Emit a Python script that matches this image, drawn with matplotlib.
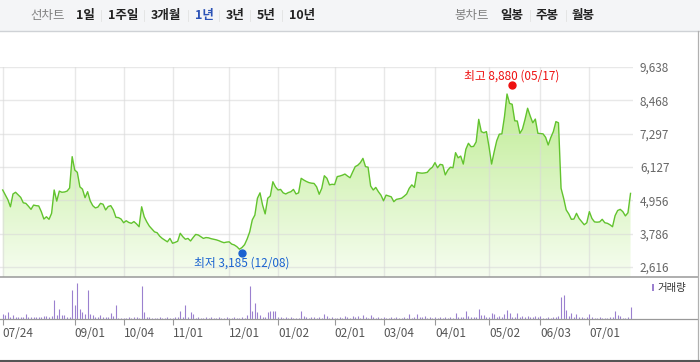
import numpy as np
import pandas as pd
import matplotlib
matplotlib.use('Agg')
import matplotlib.pyplot as plt
import matplotlib.transforms as mtransforms
from matplotlib.lines import Line2D
from matplotlib.patches import Rectangle
from matplotlib.colors import LinearSegmentedColormap

plt.rcParams['font.family'] = ['Noto Sans CJK KR', 'DejaVu Sans']

# KRX trading days, 2023-07-24 .. 2024-07-23
krx_holidays = ['2023-08-15', '2023-09-28', '2023-09-29', '2023-10-02', '2023-10-03',
                '2023-10-09', '2023-12-25', '2023-12-29', '2024-01-01', '2024-02-09',
                '2024-02-12', '2024-03-01', '2024-04-10', '2024-05-01', '2024-05-06',
                '2024-05-15', '2024-06-06']
dates = pd.bdate_range('2023-07-24', '2024-07-23', freq='C', holidays=krx_holidays)

# daily close (won)
close = [
    5320, 5150, 4980, 4730, 5180, 5240, 5150, 5060, 4870, 4850,
    4750, 4640, 4790, 4770, 4760, 4560, 4300, 4380, 4290, 4500,
    5320, 4930, 5280, 5240, 5250, 5280, 5390, 6490, 6020, 5940,
    5430, 5350, 5050, 5260, 4940, 4770, 4690, 4720, 4850, 4820,
    4620, 4740, 4770, 4620, 4360, 4350, 4300, 4170, 4240, 4180,
    4150, 4210, 4130, 4030, 4730, 4380, 4200, 4050, 3950, 3850,
    3820, 3700, 3620, 3560, 3500, 3620, 3450, 3480, 3520, 3800,
    3680, 3590, 3620, 3530, 3650, 3760, 3740, 3680, 3620, 3650,
    3640, 3610, 3590, 3570, 3540, 3500, 3470, 3490, 3500, 3420,
    3390, 3330, 3240, 3300, 3400, 3600, 3850, 4270, 4440, 5030,
    5220, 4790, 4480, 5030, 5110, 5610, 5430, 5320, 5340, 5220,
    5180, 5230, 5260, 5340, 5180, 5220, 5730, 5670, 5620, 5580,
    5560, 5550, 5430, 5170, 5380, 5820, 5730, 5500, 5520, 5510,
    5790, 5810, 5840, 5880, 5810, 5750, 5950, 6140, 6190, 6280,
    6430, 6140, 6120, 5460, 5320, 5410, 5260, 5140, 4940, 5140,
    5110, 5080, 4910, 4990, 5010, 5030, 5100, 5180, 5380, 5500,
    5410, 5940, 5920, 5910, 5920, 5940, 6050, 6120, 6280, 6100,
    6220, 6200, 5850, 6020, 6120, 6100, 6630, 6450, 6510, 6230,
    6750, 6960, 6840, 6850, 7010, 7800, 7370, 7330, 7370, 6840,
    6230, 6660, 7050, 7280, 7290, 7890, 8690, 8360, 8330, 7750,
    7740, 7310, 7460, 7800, 8190, 7920, 7680, 7810, 7310, 7300,
    7290, 7170, 6900, 7160, 7370, 7720, 7680, 5380, 5030, 4620,
    4480, 4290, 4300, 4500, 4320, 4210, 4100, 4170, 4560, 4320,
    4200, 4190, 4200, 4290, 4170, 4150, 4100, 4030, 4420, 4600,
    4640, 4560, 4410, 4520, 5200,
]

# daily volume (thousand shares)
volume = [
    160, 120, 210, 60, 110, 60, 60, 60, 60, 140,
    60, 60, 60, 60, 60, 60, 90, 90, 60, 90,
    570, 120, 300, 120, 120, 60, 60, 880, 420, 1080,
    300, 210, 150, 870, 150, 120, 60, 60, 120, 60,
    60, 60, 180, 90, 420, 40, 40, 40, 40, 60,
    40, 60, 60, 40, 990, 210, 60, 60, 40, 40,
    40, 60, 40, 40, 50, 40, 40, 60, 50, 240,
    60, 420, 60, 210, 150, 40, 60, 40, 40, 60,
    40, 60, 40, 40, 60, 40, 40, 60, 40, 40,
    60, 40, 40, 60, 40, 120, 990, 240, 480, 210,
    120, 60, 60, 210, 240, 240, 240, 60, 60, 40,
    60, 40, 60, 40, 40, 40, 240, 90, 60, 40,
    60, 60, 40, 60, 40, 150, 90, 40, 60, 40,
    40, 60, 40, 90, 60, 40, 100, 60, 100, 40,
    120, 60, 40, 120, 60, 40, 60, 40, 60, 40,
    40, 60, 40, 60, 40, 40, 60, 40, 150, 40,
    60, 150, 60, 60, 90, 40, 60, 40, 60, 40,
    60, 40, 60, 40, 60, 40, 180, 60, 60, 60,
    240, 90, 60, 60, 60, 300, 120, 120, 60, 60,
    180, 150, 60, 90, 60, 150, 280, 180, 60, 60,
    180, 60, 90, 60, 90, 60, 60, 90, 60, 90,
    40, 40, 60, 40, 60, 60, 90, 660, 720, 270,
    90, 180, 60, 150, 60, 60, 40, 60, 150, 60,
    40, 40, 60, 40, 40, 40, 60, 60, 240, 120,
    90, 40, 40, 60, 360,
]

tick_dates = ['2023-07-24', '2023-09-01', '2023-10-04', '2023-11-01', '2023-12-01',
              '2024-01-02', '2024-02-01', '2024-03-04', '2024-04-01', '2024-05-02',
              '2024-06-03', '2024-07-01']
price_ticks = [2616, 3786, 4956, 6127, 7297, 8468, 9638]

high_date, high_value = '2024-05-17', 8880
low_date, low_value = '2023-12-08', 3185

periods = ['1일', '1주일', '3개월', '1년', '3년', '5년', '10년']
candles = ['일봉', '주봉', '월봉']

assert len(dates) == len(close) == len(volume)

W, H = 700, 362
x = np.arange(len(close))
tick_idx = [dates.get_loc(pd.Timestamp(d)) for d in tick_dates]
tick_labels = [pd.Timestamp(d).strftime('%m/%d') for d in tick_dates]


def fx(px):
    return px / W


def fy(py):
    return 1 - py / H


fig = plt.figure(figsize=(7, 3.62), dpi=100)
fig.patch.set_facecolor('white')

# toolbar
fig.add_artist(Rectangle((0, fy(30.5)), 1, 30.5 / H, transform=fig.transFigure,
                         facecolor='#f4f5f7', edgecolor='none', zorder=0))
fig.add_artist(Line2D([0, 1], [fy(30.5), fy(30.5)], transform=fig.transFigure,
                      color='#cfd2d6', lw=1))
fig.text(fx(48), fy(15), '선차트', color='#808080', fontsize=9, ha='center', va='center')
period_x = [85.5, 123, 166, 204, 235, 266, 302]
for px, lbl in zip(period_x, periods):
    c = '#2b52b6' if lbl == '1년' else '#222222'
    fig.text(fx(px), fy(15), lbl, color=c, fontsize=9, fontweight='bold', ha='center', va='center')
for px in [101, 144, 188, 219, 250, 282, 530, 566]:
    fig.add_artist(Line2D([fx(px), fx(px)], [fy(10), fy(21)], transform=fig.transFigure,
                          color='#e2e2e2', lw=0.6))
fig.text(fx(471.5), fy(15), '봉차트', color='#808080', fontsize=9, ha='center', va='center')
for px, lbl in zip([512, 547.5, 583], candles):
    fig.text(fx(px), fy(15), lbl, color='#222222', fontsize=9, fontweight='bold', ha='center', va='center')

# price panel
x_left, x_right = -1.05, 244.96
ax = fig.add_axes([0, fy(277), fx(633), (277 - 67) / H])
y_bottom = 2616 - 10 * (9638 - 2616) / 200
ax.set_xlim(x_left, x_right)
ax.set_ylim(y_bottom, 9638)

grad = LinearSegmentedColormap.from_list('g', ['#f6fdf0', '#b8ea88'])
im = ax.imshow(np.linspace(0, 1, 256).reshape(-1, 1), cmap=grad, origin='lower', aspect='auto',
               extent=[x_left, x_right, y_bottom, 9638], zorder=1)
poly = ax.fill_between(x, close, y_bottom, color='none', lw=0)
im.set_clip_path(poly.get_paths()[0], transform=ax.transData)

ax.set_yticks(price_ticks)
ax.set_yticklabels([f'{v:,}' for v in price_ticks])
ax.set_xticks(tick_idx)
ax.set_xticklabels([])
ax.grid(True, color='#d9d9d9', lw=1, alpha=0.6, zorder=2)
ax.set_axisbelow(False)
ax.yaxis.tick_right()
ax.tick_params(axis='y', length=0, pad=5, labelsize=8.5, labelcolor='#666666')
ax.tick_params(axis='x', length=0)
for s in ax.spines.values():
    s.set_visible(False)

ax.plot(x, close, color='#62c32e', lw=1.0, zorder=3)

hi = dates.get_loc(pd.Timestamp(high_date))
lo = dates.get_loc(pd.Timestamp(low_date))
up = mtransforms.offset_copy(ax.transData, fig=fig, y=3.5, units='dots')
down = mtransforms.offset_copy(ax.transData, fig=fig, y=-2.5, units='dots')
ax.plot(hi, high_value, 'o', color='#ee1111', ms=5, transform=up, clip_on=False, zorder=4)
ax.plot(lo, low_value, 'o', color='#1a62d0', ms=5, transform=down, clip_on=False, zorder=4)
ax.annotate(f'최고 {high_value:,} ({pd.Timestamp(high_date):%m/%d})', (hi, high_value),
            xytext=(0, 13), textcoords='offset pixels', ha='center', va='center',
            color='#ee1111', fontsize=8.5, annotation_clip=False)
ax.annotate(f'최저 {low_value:,} ({pd.Timestamp(low_date):%m/%d})', (lo, low_value),
            xytext=(0, -12.5), textcoords='offset pixels', ha='center', va='center',
            color='#1a62d0', fontsize=8.5, annotation_clip=False)

# volume panel
vax = fig.add_axes([0, fy(319), fx(633), (319 - 277) / H])
vax.set_xlim(x_left, x_right)
vax.set_ylim(0, max(volume) * 42 / 36)
vax.vlines(x, 0, volume, color='#9b80cf', lw=0.8)
vax.set_yticks([])
vax.set_xticks(tick_idx)
vax.set_xticklabels(tick_labels)
for lbl in vax.get_xticklabels():
    lbl.set_ha('left')
vax.tick_params(axis='x', direction='out', length=4, color='#999999', pad=2,
                labelsize=8.5, labelcolor='#555555')
for s in vax.spines.values():
    s.set_visible(False)
vax.patch.set_alpha(0)

fig.add_artist(Rectangle((fx(651.5), fy(291)), 2.5 / W, 7 / H, transform=fig.transFigure,
                         facecolor='#9b80cf', edgecolor='none'))
fig.text(fx(657), fy(288), '거래량', color='#333333', fontsize=7.5, ha='left', va='center')

# frame lines
fig.add_artist(Line2D([0, fx(698)], [fy(277), fy(277)], transform=fig.transFigure, color='#999999', lw=1.1))
fig.add_artist(Line2D([0, fx(698)], [fy(319), fy(319)], transform=fig.transFigure, color='#999999', lw=0.9))
fig.add_artist(Line2D([fx(698), fx(698)], [fy(31), fy(360)], transform=fig.transFigure, color='#b0b0b0', lw=0.9))
fig.add_artist(Line2D([0, 1], [fy(360.5), fy(360.5)], transform=fig.transFigure, color='#555555', lw=1.5))

fig.savefig('out.png', dpi=100)
